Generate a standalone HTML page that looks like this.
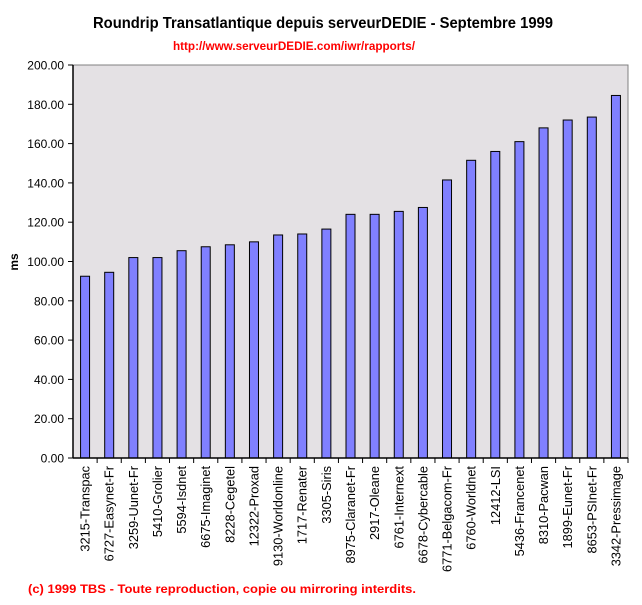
<!DOCTYPE html>
<html><head><meta charset="utf-8"><style>html,body{margin:0;padding:0;background:#fff}</style></head><body>
<svg width="642" height="600" xmlns="http://www.w3.org/2000/svg" font-family="Liberation Sans, Arial, sans-serif">
<rect width="642" height="600" fill="#fff"/>
<text x="93" y="28" font-size="16" font-weight="bold" textLength="460" lengthAdjust="spacingAndGlyphs">Roundrip Transatlantique depuis serveurDEDIE - Septembre 1999</text>
<text x="173" y="50" font-size="12" font-weight="bold" fill="#ff0000" textLength="242" lengthAdjust="spacingAndGlyphs">http://www.serveurDEDIE.com/iwr/rapports/</text>
<rect x="73" y="65" width="555" height="393" fill="#e4e1e4" stroke="#808080" stroke-width="1"/>
<g id="bars" fill="#8080ff" stroke="#000" stroke-width="1"></g>
<line x1="73" y1="65" x2="73" y2="458" stroke="#000" stroke-width="1.5"/>
<line x1="73" y1="458" x2="628" y2="458" stroke="#000" stroke-width="1.5"/>
<g id="yax" font-size="12"></g>
<g id="xax" font-size="12.8"></g>
<text transform="translate(18,262) rotate(-90)" font-size="12" font-weight="bold" text-anchor="middle">ms</text>
<text x="28" y="593" font-size="12" font-weight="bold" fill="#ff0000" textLength="388" lengthAdjust="spacingAndGlyphs">(c) 1999 TBS - Toute reproduction, copie ou mirroring interdits.</text>
<script>
var ns="http://www.w3.org/2000/svg";
var vals=[92.5,94.5,102,102,105.5,107.5,108.5,110,113.5,114,116.5,124,124,125.5,127.5,141.5,151.5,156,161,168,172,173.5,184.5];
var labs=["3215-Transpac","6727-Easynet-Fr","3259-Uunet-Fr","5410-Grolier","5594-Isdnet","6675-Imaginet","8228-Cegetel","12322-Proxad","9130-Worldonline","1717-Renater","3305-Siris","8975-Claranet-Fr","2917-Oleane","6761-Internext","6678-Cybercable","6771-Belgacom-Fr","6760-Worldnet","12412-LSI","5436-Francenet","8310-Pacwan","1899-Eunet-Fr","8653-PSInet-Fr","3342-Pressimage"];
var bars=document.getElementById("bars"),xa=document.getElementById("xax"),ya=document.getElementById("yax");
var w=555/23;
function el(t,a,p){var e=document.createElementNS(ns,t);for(var k in a)e.setAttribute(k,a[k]);p.appendChild(e);return e;}
for(var i=0;i<23;i++){
 var c=73+w*(i+0.5),h=vals[i]*393/200;
 el("rect",{x:c-4.5,y:458-h,width:9,height:h},bars);
 el("line",{x1:73+w*(i+1),y1:458,x2:73+w*(i+1),y2:463,stroke:"#000"},xa);
 var t=el("text",{transform:"translate("+(c+4.5)+",466) rotate(-90)","text-anchor":"end"},xa);t.textContent=labs[i];
}
for(var j=0;j<=10;j++){
 var y=458-j*39.3;
 el("line",{x1:68,y1:y,x2:73,y2:y,stroke:"#000"},ya);
 var t=el("text",{x:64,y:y+4.5,"text-anchor":"end"},ya);t.textContent=(j*20).toFixed(2);
}
</script>
</svg>
</body></html>
